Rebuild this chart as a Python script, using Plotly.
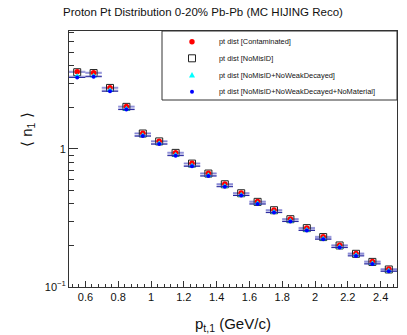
import plotly.graph_objects as go

# ---- data ----
pt = [0.55, 0.65, 0.75, 0.85, 0.95, 1.05, 1.15, 1.25, 1.35, 1.45,
      1.55, 1.65, 1.75, 1.85, 1.95, 2.05, 2.15, 2.25, 2.35, 2.45]
pt_halfwidth = [0.05] * 20
contaminated = [3.63, 3.57, 2.78, 2.03, 1.30, 1.14, 0.94, 0.787, 0.667, 0.557,
                0.480, 0.416, 0.361, 0.311, 0.268, 0.231, 0.201, 0.175, 0.153, 0.135]
nomisid = [3.60, 3.55, 2.77, 2.02, 1.295, 1.135, 0.937, 0.784, 0.664, 0.555,
           0.478, 0.414, 0.360, 0.310, 0.267, 0.230, 0.200, 0.174, 0.152, 0.134]
noweak = [3.36, 3.38, 2.66, 1.95, 1.25, 1.095, 0.905, 0.757, 0.643, 0.538,
          0.464, 0.403, 0.349, 0.301, 0.259, 0.224, 0.195, 0.170, 0.148, 0.131]
nomaterial = [3.30, 3.34, 2.62, 1.93, 1.24, 1.085, 0.895, 0.750, 0.637, 0.533,
              0.460, 0.399, 0.346, 0.298, 0.257, 0.222, 0.193, 0.168, 0.147, 0.130]

series_names = ["pt dist [Contaminated]", "pt dist [NoMisID]",
                "pt dist [NoMisID+NoWeakDecayed]",
                "pt dist [NoMisID+NoWeakDecayed+NoMaterial]"]

x_tickvals = [0.6, 0.8, 1.0, 1.2, 1.4, 1.6, 1.8, 2.0, 2.2, 2.4]
x_ticktext = ["0.6", "0.8", "1", "1.2", "1.4", "1.6", "1.8", "2", "2.2", "2.4"]
y_tickvals = [0.1, 1]
y_ticktext = ["10<sup>\u22121</sup>", "1"]
y_minor = [0.2, 0.3, 0.4, 0.5, 0.6, 0.7, 0.8, 0.9, 2, 3, 4, 5, 6, 7]

FONT = "Liberation Sans, Arial, sans-serif"
W, H = 407, 335
L, R, T, B = 69, 10, 31, 48
PW, PH = W - L - R, H - T - B

def px_x(p):
    return (p - L) / PW

def px_y(p):
    return 1 - (p - T) / PH

fig = go.Figure()

light = "rgba(100,100,200,0.55)"
fig.add_trace(go.Scatter(
    x=pt, y=contaminated, mode="markers", name=series_names[0], showlegend=False,
    marker=dict(symbol="square-open", size=7, color="rgba(0,0,0,0)",
                line=dict(color="#222", width=1)),
    error_x=dict(type="data", array=pt_halfwidth, color=light, thickness=2, width=0)))
fig.add_trace(go.Scatter(
    x=pt, y=nomisid, mode="markers", name=series_names[1], showlegend=False,
    marker=dict(symbol="square-open", size=7, color="#222", line=dict(width=1)),
    error_x=dict(type="data", array=pt_halfwidth, color=light, thickness=1, width=0)))
fig.add_trace(go.Scatter(
    x=pt, y=contaminated, mode="markers", name=series_names[0], showlegend=False,
    marker=dict(symbol="circle", size=5.5, color="#ff0000", line=dict(width=0))))
fig.add_trace(go.Scatter(
    x=pt, y=noweak, mode="markers", name=series_names[2], showlegend=False,
    marker=dict(symbol="triangle-up", size=6, color="#00ffff", line=dict(width=0)),
    error_x=dict(type="data", array=pt_halfwidth, color=light, thickness=1.5, width=0)))
fig.add_trace(go.Scatter(
    x=pt, y=nomaterial, mode="markers", name=series_names[3], showlegend=False,
    marker=dict(symbol="circle", size=4, color="#0000ff", line=dict(width=0)),
    error_x=dict(type="data", array=pt_halfwidth, color="#222299", thickness=1, width=0)))

shapes = []
annotations = []
# legend box
shapes.append(dict(type="rect", xref="paper", yref="paper",
                   x0=px_x(162), x1=px_x(397), y0=px_y(100), y1=px_y(31),
                   line=dict(color="#333", width=1), fillcolor="white", layer="above"))
rows = [41.7, 58.3, 75.0, 91.7]
mx = px_x(192)
shapes.append(dict(type="circle", xref="paper", yref="paper", xsizemode="pixel", ysizemode="pixel",
                   xanchor=mx, yanchor=px_y(rows[0]), x0=-2.7, x1=2.7, y0=-2.7, y1=2.7,
                   fillcolor="#ff0000", line=dict(width=0), layer="above"))
shapes.append(dict(type="rect", xref="paper", yref="paper", xsizemode="pixel", ysizemode="pixel",
                   xanchor=mx, yanchor=px_y(rows[1]), x0=-3.5, x1=3.5, y0=-3.5, y1=3.5,
                   fillcolor="rgba(0,0,0,0)", line=dict(color="#222", width=1), layer="above"))
shapes.append(dict(type="path", xref="paper", yref="paper", xsizemode="pixel", ysizemode="pixel",
                   xanchor=mx, yanchor=px_y(rows[2]), path="M -3,-2.5 L 3,-2.5 L 0,3 Z",
                   fillcolor="#00ffff", line=dict(width=0), layer="above"))
shapes.append(dict(type="circle", xref="paper", yref="paper", xsizemode="pixel", ysizemode="pixel",
                   xanchor=mx, yanchor=px_y(rows[3]), x0=-2, x1=2, y0=-2, y1=2,
                   fillcolor="#0000ff", line=dict(width=0), layer="above"))
for name, r in zip(series_names, rows):
    annotations.append(dict(text=name, xref="paper", yref="paper", x=px_x(217), y=px_y(r),
                            xanchor="left", yanchor="middle", showarrow=False,
                            font=dict(family=FONT, size=7.4, color="#111")))

annotations.append(dict(text="Proton Pt Distribution 0-20% Pb-Pb (MC HIJING Reco)",
                        xref="paper", yref="paper", x=px_x(203), y=px_y(12),
                        xanchor="center", yanchor="middle", showarrow=False,
                        font=dict(family=FONT, size=11.5, color="#111")))
annotations.append(dict(text="p<sub>t,1</sub> (GeV/c)", xref="paper", yref="paper",
                        x=px_x(233), y=px_y(324), xanchor="center", yanchor="middle",
                        showarrow=False, font=dict(family=FONT, size=15, color="#111")))
annotations.append(dict(text="\u27e8 n<sub>1</sub> \u27e9", xref="paper", yref="paper",
                        x=px_x(27), y=px_y(130), xanchor="center", yanchor="middle",
                        textangle=-90, showarrow=False,
                        font=dict(family=FONT, size=15, color="#111")))

fig.update_layout(
    width=W, height=H, margin=dict(l=L, r=R, t=T, b=B),
    paper_bgcolor="white", plot_bgcolor="white",
    shapes=shapes, annotations=annotations, showlegend=False,
    xaxis=dict(range=[0.5, 2.5], showgrid=False, zeroline=False,
               showline=True, linecolor="#333", linewidth=1, mirror=True,
               ticks="inside", ticklen=6, tickcolor="#333",
               tickmode="array", tickvals=x_tickvals, ticktext=x_ticktext,
               tickfont=dict(family=FONT, size=11, color="#111"),
               minor=dict(ticks="inside", ticklen=3, tickcolor="#333", dtick=0.04, tick0=0,
                          showgrid=False)),
    yaxis=dict(type="log", range=[-1, 0.855], showgrid=False, zeroline=False,
               showline=True, linecolor="#333", linewidth=1, mirror=True,
               ticks="inside", ticklen=9, tickcolor="#333",
               tickmode="array", tickvals=y_tickvals, ticktext=y_ticktext,
               tickfont=dict(family=FONT, size=11, color="#111"),
               minor=dict(ticks="inside", ticklen=4.5, tickcolor="#333",
                          tickmode="array", tickvals=y_minor, showgrid=False)),
)

fig.write_html("out.html", config={"displayModeBar": False},
               post_script="document.body.style.margin='0';document.body.style.padding='0';")
